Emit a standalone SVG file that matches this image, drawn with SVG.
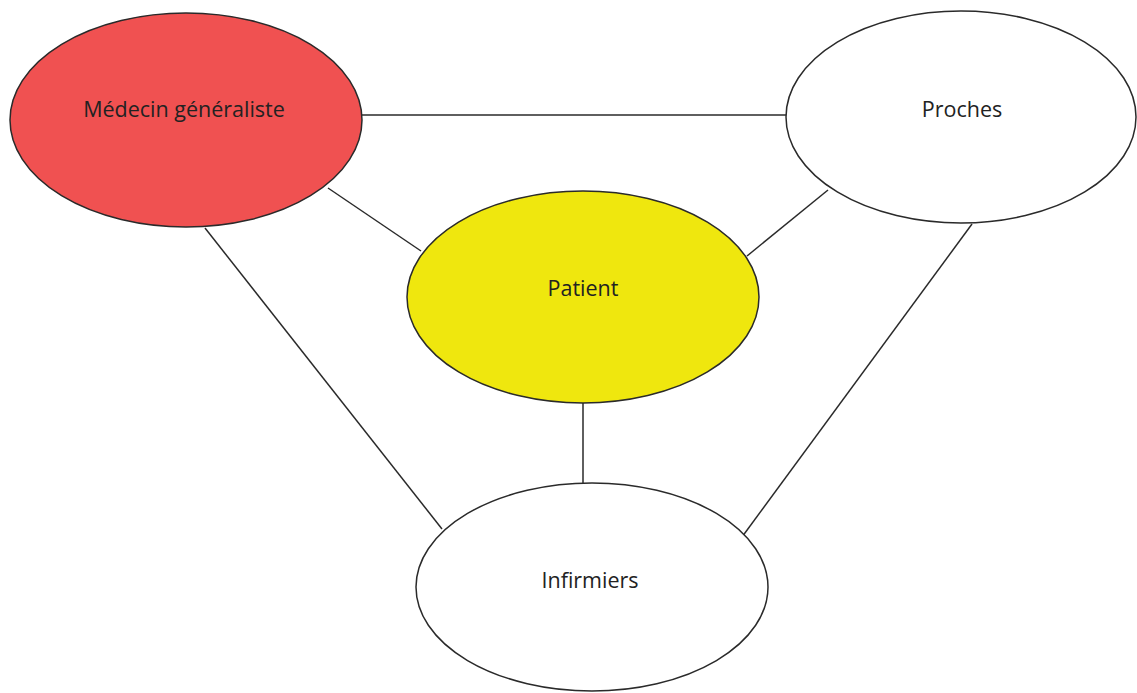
<svg xmlns="http://www.w3.org/2000/svg" width="1137" height="693" viewBox="0 0 1137 693">
<style>
.node{stroke:#2a2a2a;stroke-width:1.5}
.lbl{font-family:"Open Sans","Liberation Sans",sans-serif;font-size:21.5px;fill:#222;text-anchor:middle}
.edge{stroke:#2a2a2a;stroke-width:1.5;fill:none}
</style>
<rect width="1137" height="693" fill="#ffffff"/>
<g id="connectors">
<line class="edge" x1="362" y1="115" x2="786" y2="115"/>
<line class="edge" x1="328" y1="188" x2="421" y2="251"/>
<line class="edge" x1="828" y1="190" x2="747" y2="256"/>
<line class="edge" x1="205" y1="228" x2="442" y2="529"/>
<line class="edge" x1="972" y1="224" x2="742" y2="537"/>
<line class="edge" x1="583" y1="403" x2="583" y2="483"/>
</g>
<g id="medecin">
<ellipse class="node" cx="186" cy="120" rx="176" ry="107" fill="#f05151"/>
<text class="lbl" x="184" y="117">Médecin généraliste</text>
</g>
<g id="proches">
<ellipse class="node" cx="961" cy="117" rx="175" ry="106" fill="#ffffff"/>
<text class="lbl" x="962" y="117">Proches</text>
</g>
<g id="patient">
<ellipse class="node" cx="583" cy="297" rx="176" ry="106" fill="#efe70e"/>
<text class="lbl" x="583" y="296">Patient</text>
</g>
<g id="infirmiers">
<ellipse class="node" cx="592" cy="587" rx="176" ry="104" fill="#ffffff"/>
<text class="lbl" x="590" y="588">Infirmiers</text>
</g>
</svg>
